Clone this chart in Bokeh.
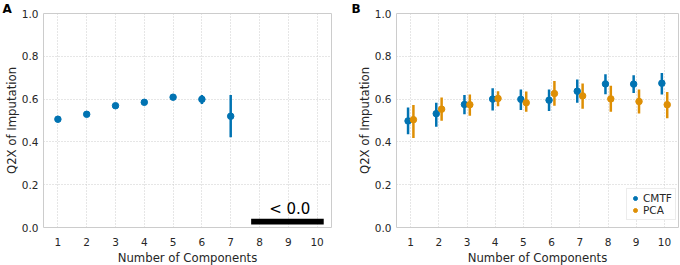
from bokeh.plotting import figure
from bokeh.models import (ColumnDataSource, FixedTicker, PrintfTickFormatter, Title,
                          Legend, LegendItem, Range1d)
from bokeh.layouts import row
from bokeh.transform import dodge
from bokeh.core.properties import value
from bokeh.embed import file_html
from bokeh.resources import INLINE

# ---------------- data ----------------
comps_a = [1, 2, 3, 4, 5, 6, 7]
a_mean = [0.506, 0.529, 0.569, 0.585, 0.609, 0.599, 0.520]
a_lo = [0.492, 0.516, 0.557, 0.573, 0.598, 0.577, 0.422]
a_hi = [0.520, 0.542, 0.581, 0.597, 0.620, 0.619, 0.619]
neg_components = [8, 9, 10]
neg_label = "< 0.0"

comps_b = [1, 2, 3, 4, 5, 6, 7, 8, 9, 10]
cmtf_mean = [0.498, 0.532, 0.575, 0.600, 0.599, 0.595, 0.637, 0.671, 0.670, 0.674]
cmtf_lo = [0.436, 0.471, 0.529, 0.547, 0.549, 0.544, 0.583, 0.623, 0.629, 0.622]
cmtf_hi = [0.561, 0.583, 0.619, 0.651, 0.645, 0.645, 0.692, 0.716, 0.712, 0.722]
pca_mean = [0.504, 0.553, 0.574, 0.603, 0.583, 0.626, 0.615, 0.601, 0.589, 0.574]
pca_lo = [0.418, 0.499, 0.522, 0.567, 0.541, 0.569, 0.555, 0.541, 0.533, 0.510]
pca_hi = [0.572, 0.608, 0.622, 0.637, 0.636, 0.684, 0.673, 0.662, 0.645, 0.633]

y_ticks = [0.0, 0.2, 0.4, 0.6, 0.8, 1.0]
x_ticks = list(range(1, 11))

BLUE = "#0173b2"
ORANGE = "#de8f05"
TXT = "#262626"
FONT = "DejaVu Sans"


def base_fig(left, fw, right, letter, letter_offset):
    p = figure(frame_width=fw, frame_height=214, min_border_left=left,
               min_border_right=right, min_border_top=13, min_border_bottom=38,
               x_range=Range1d(0.5, 10.5), y_range=Range1d(0.0, 1.0),
               output_backend="svg", toolbar_location=None)
    p.background_fill_color = "white"
    p.border_fill_color = "white"
    p.outline_line_color = "#cccccc"
    p.outline_line_width = 1
    for ax in (p.xaxis[0], p.yaxis[0]):
        ax.axis_line_color = None
        ax.major_tick_line_color = None
        ax.minor_tick_line_color = None
        ax.major_tick_out = 0
        ax.major_tick_in = 0
        ax.minor_tick_out = 0
        ax.minor_tick_in = 0
        ax.major_label_text_font = FONT
        ax.major_label_text_font_size = "10.5px"
        ax.major_label_text_color = TXT
        ax.axis_label_text_font = FONT
        ax.axis_label_text_font_size = "11.7px"
        ax.axis_label_text_font_style = "normal"
        ax.axis_label_text_color = TXT
    p.xaxis.ticker = FixedTicker(ticks=x_ticks)
    p.yaxis.ticker = FixedTicker(ticks=y_ticks)
    p.yaxis.formatter = PrintfTickFormatter(format="%.1f")
    p.xaxis.axis_label = "Number of Components"
    p.yaxis.axis_label = "Q2X of Imputation"
    p.xaxis.major_label_standoff = 10
    p.xaxis.axis_label_standoff = 2
    p.yaxis.major_label_standoff = 5
    p.yaxis.axis_label_standoff = 0
    for g in (p.xgrid[0], p.ygrid[0]):
        g.grid_line_color = "#cccccc"
        g.grid_line_dash = "1 2"
        g.grid_line_width = 1
    p.add_layout(Title(text=letter, align="left", offset=letter_offset, standoff=-4,
                       text_font=FONT, text_font_size="12px", text_font_style="bold",
                       text_color="black"), "above")
    return p


# ---------------- panel A ----------------
pa = base_fig(43, 288, 9, "A", -41)
src_a = ColumnDataSource(dict(x=comps_a, m=a_mean, lo=a_lo, hi=a_hi))
pa.segment(x0="x", y0="lo", x1="x", y1="hi", source=src_a, line_color=BLUE, line_width=2.5)
pa.scatter(x="x", y="m", source=src_a, size=6.5, fill_color=BLUE, line_color=BLUE)

bar_left = min(neg_components) - 0.29
bar_right = max(neg_components) + 0.23
pa.quad(left=[bar_left], right=[bar_right], bottom=[0.014], top=[0.041],
        fill_color="black", line_color=None)
pa.text(x=[sum(neg_components) / len(neg_components) + 0.05], y=[0.085], text=[neg_label],
        text_font=value(FONT), text_font_size="15px", text_color="black",
        text_align="center", text_baseline="alphabetic")

# ---------------- panel B ----------------
pb = base_fig(56, 282, 2, "B", -45)
src_c = ColumnDataSource(dict(x=comps_b, m=cmtf_mean, lo=cmtf_lo, hi=cmtf_hi))
src_p = ColumnDataSource(dict(x=comps_b, m=pca_mean, lo=pca_lo, hi=pca_hi))
xc = dodge("x", -0.09)
xp = dodge("x", 0.1)
pb.segment(x0=xc, y0="lo", x1=xc, y1="hi", source=src_c, line_color=BLUE, line_width=2.5)
rc = pb.scatter(x=xc, y="m", source=src_c, size=6.5, fill_color=BLUE, line_color=BLUE)
pb.segment(x0=xp, y0="lo", x1=xp, y1="hi", source=src_p, line_color=ORANGE, line_width=2.5)
rp = pb.scatter(x=xp, y="m", source=src_p, size=6.5, fill_color=ORANGE, line_color=ORANGE)

legend = Legend(items=[LegendItem(label="CMTF", renderers=[rc]),
                       LegendItem(label="PCA", renderers=[rp])],
                location=(230, 7), padding=3, spacing=0, margin=0,
                glyph_width=10, glyph_height=12, label_height=12, label_standoff=3,
                label_text_font=FONT, label_text_font_size="10.5px", label_text_color=TXT,
                border_line_color="#d9d9d9", border_line_width=1,
                background_fill_color="white", background_fill_alpha=0.9)
pb.add_layout(legend)

layout = row(pa, pb)
open("out.html", "w").write(file_html(layout, INLINE))
